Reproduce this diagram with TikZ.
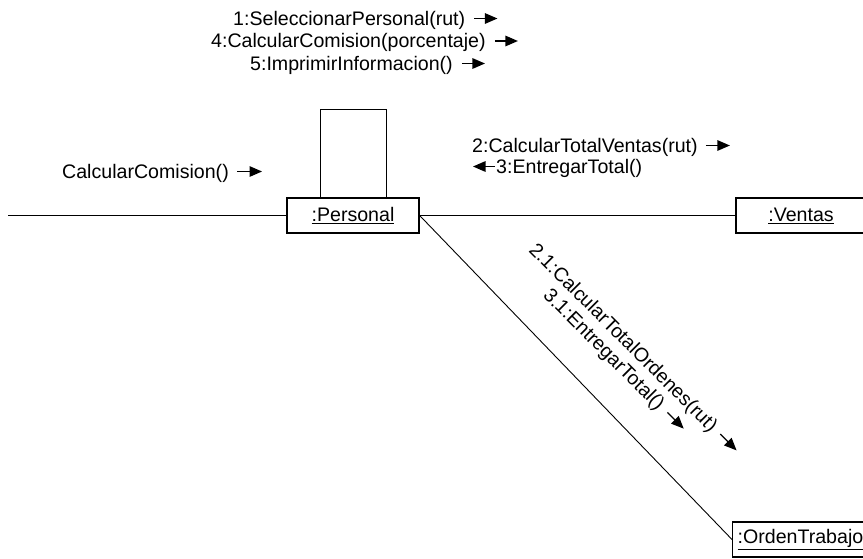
\documentclass[tikz,border=0pt]{standalone}
\usepackage{fontspec}
\setmainfont{Liberation Sans}
\usetikzlibrary{arrows.meta}

\tikzset{
  obj/.style={draw, line width=1.3pt, minimum height=35pt, inner sep=0pt,
              font=\fontsize{19.6}{22}\selectfont},
  lbl/.style={inner sep=0pt, font=\fontsize{19.6}{22}\selectfont},
  link/.style={line width=0.9pt},
  msg/.style={line width=1.3pt, -{Triangle[length=12.5pt,width=10.5pt]}},
}

\begin{document}
\begin{tikzpicture}[x=1pt, y=-1pt]
  \useasboundingbox (0,0) rectangle (863,558);

  % objects
  \node[obj, minimum width=132pt] (per) at (353,215.5) {\underline{:Personal}};
  \node[obj, minimum width=130pt] (ven) at (801,215.5) {\underline{:Ventas}};
  \node[obj, anchor=west, inner xsep=5pt, text width=150pt]
       (ord) at (732,539.5) {\underline{:OrdenTrabajo}};

  % links
  \coordinate (lend) at (8,215.5);
  \draw[link] (lend) -- (per.west);
  \draw[link] (per.east) -- (ven.west);
  \draw[link] (per.east) -- (ord.west);
  \draw[link] ([xshift=-33pt]per.north) -- ++(0,-88) -| ([xshift=33pt]per.north);

  % messages on the self link
  \node[lbl, anchor=base west] (m1) at (233,25) {1:SeleccionarPersonal(rut)};
  \node[lbl, anchor=base west] (m4) at (211,47.5) {4:CalcularComision(porcentaje)};
  \node[lbl, anchor=base west] (m5) at (250,70) {5:ImprimirInformacion()};
  \draw[msg] (m1.base east) ++(9,-6.5) -- ++(23,0);
  \draw[msg] (m4.base east) ++(9,-6.5) -- ++(23,0);
  \draw[msg] (m5.base east) ++(9,-6.5) -- ++(23,0);

  % incoming message
  \node[lbl, anchor=base west] (cc) at (62,178) {CalcularComision()};
  \draw[msg] (cc.base east) ++(8,-6.5) -- ++(25,0);

  % messages to Ventas
  \node[lbl, anchor=base west] (v2) at (472,152) {2:CalcularTotalVentas(rut)};
  \node[lbl, anchor=base west] (v3) at (496,173) {3:EntregarTotal()};
  \draw[msg] (v2.base east) ++(8,-6.5) -- ++(24,0);
  \draw[msg] (v3.base west) ++(-1,-6.5) -- ++(-22,0);

  % messages to OrdenTrabajo
  \begin{scope}[shift={(528,251)}, rotate=-45, transform shape]
    \node[lbl, anchor=base west] (d1) at (0,0) {2.1:CalcularTotalOrdenes(rut)};
    \node[lbl, anchor=base west] (d2) at (42,22) {3.1:EntregarTotal()};
    \draw[msg] (d1.base east) ++(8,-6.5) -- ++(23,0);
    \draw[msg] (d2.base east) ++(8,-6.5) -- ++(23,0);
  \end{scope}
\end{tikzpicture}
\end{document}
